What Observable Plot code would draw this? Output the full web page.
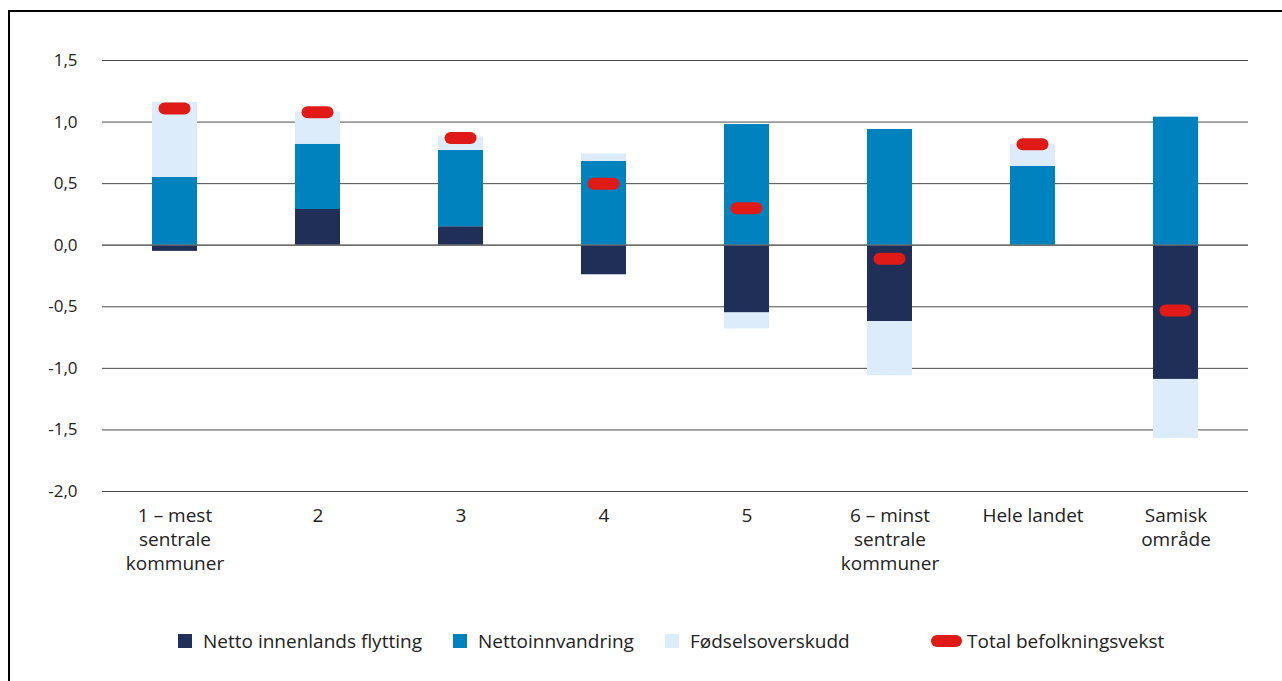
<!DOCTYPE html>
<html>
<head>
<meta charset="utf-8">
<script src="https://cdn.jsdelivr.net/npm/d3@7"></script>
<script src="https://cdn.jsdelivr.net/npm/@observablehq/plot@0.6"></script>
<style>
  html, body { margin: 0; padding: 0; background: #fff; overflow: hidden; }
  body { width: 1282px; height: 681px; position: relative; font-family: "Open Sans", sans-serif; }
  #frame { position: absolute; left: 8px; top: 10px; width: 1290px; height: 700px; border-left: 2px solid #000; border-top: 2px solid #000; }
  #chart { position: absolute; left: 0; top: 0; }
  #legend { position: absolute; left: 0; top: 629px; width: 1282px; height: 24px; font-size: 19px; color: #222; }
  .item { position: absolute; top: 0; display: flex; align-items: center; height: 24px; white-space: nowrap; }
  .sw { display: inline-block; width: 14px; height: 14px; margin-right: 11px; }
  .pill { display: inline-block; width: 31px; height: 12px; border-radius: 6px; margin-right: 5px; }
</style>
</head>
<body>
<div id="frame"></div>
<div id="chart"></div>
<div id="legend"></div>
<script>
const categories = ["1 – mest\nsentrale\nkommuner", "2", "3", "4", "5", "6 – minst\nsentrale\nkommuner", "Hele landet", "Samisk\nområde"];
const seriesNames = ["Netto innenlands flytting", "Nettoinnvandring", "Fødselsoverskudd"];
const totalName = "Total befolkningsvekst";
const nettoInnenlands = [-0.05, 0.29, 0.15, -0.24, -0.55, -0.62, 0.0, -1.09];
const nettoInnvandring = [0.55, 0.53, 0.62, 0.68, 0.98, 0.94, 0.64, 1.04];
const fodselsoverskudd = [0.61, 0.26, 0.11, 0.06, -0.13, -0.44, 0.18, -0.48];
const totalVekst = [1.11, 1.08, 0.87, 0.50, 0.30, -0.11, 0.82, -0.53];
const yTicks = [-2, -1.5, -1, -0.5, 0, 0.5, 1, 1.5];
const colors = ["#202f58", "#0082be", "#dcecfa"];
const totalColor = "#e01b17";

const seriesValues = [nettoInnenlands, nettoInnvandring, fodselsoverskudd];
const stacked = [];
seriesValues.forEach((vals, s) => {
  categories.forEach((c, i) => stacked.push({cat: c, series: seriesNames[s], value: vals[i]}));
});
const totals = categories.map((c, i) => ({cat: c, value: totalVekst[i]}));

const fmt = d => d.toFixed(1).replace(".", ",");

const chart = Plot.plot({
  width: 1282,
  height: 610,
  marginLeft: 102,
  marginRight: 34,
  marginTop: 60,
  marginBottom: 119,
  style: {fontFamily: "Open Sans, sans-serif", fontSize: "17px", color: "#222", background: "transparent"},
  x: {domain: categories, paddingInner: 0.685, paddingOuter: 0.3425, label: null},
  y: {domain: [-2, 1.5], label: null},
  color: {domain: seriesNames, range: colors},
  marks: [
    Plot.ruleY(yTicks, {stroke: "#4a4a4a", strokeWidth: 1}),
    Plot.barY(stacked, {x: "cat", y: "value", z: "series", fill: "series", order: seriesNames}),
    Plot.ruleY([0], {stroke: "#6a6a6a", strokeWidth: 1.2}),
    Plot.tickY(totals, {x: "cat", y: "value", stroke: totalColor, strokeWidth: 12, strokeLinecap: "round", insetLeft: 12.5, insetRight: 12.5}),
    Plot.axisY(yTicks, {tickSize: 0, tickPadding: 25, tickFormat: fmt, fontSize: 17}),
    Plot.axisX({tickSize: 0, tickPadding: 13, fontSize: 19, lineHeight: 1.27})
  ]
});
document.getElementById("chart").appendChild(chart);

const legend = document.getElementById("legend");
const lefts = [178, 453, 665, 931];
seriesNames.forEach((n, i) => {
  const d = document.createElement("div");
  d.className = "item";
  d.style.left = lefts[i] + "px";
  d.innerHTML = `<span class="sw" style="background:${colors[i]}"></span><span>${n}</span>`;
  legend.appendChild(d);
});
const t = document.createElement("div");
t.className = "item";
t.style.left = lefts[3] + "px";
t.innerHTML = `<span class="pill" style="background:${totalColor}"></span><span>${totalName}</span>`;
legend.appendChild(t);
</script>
</body>
</html>
